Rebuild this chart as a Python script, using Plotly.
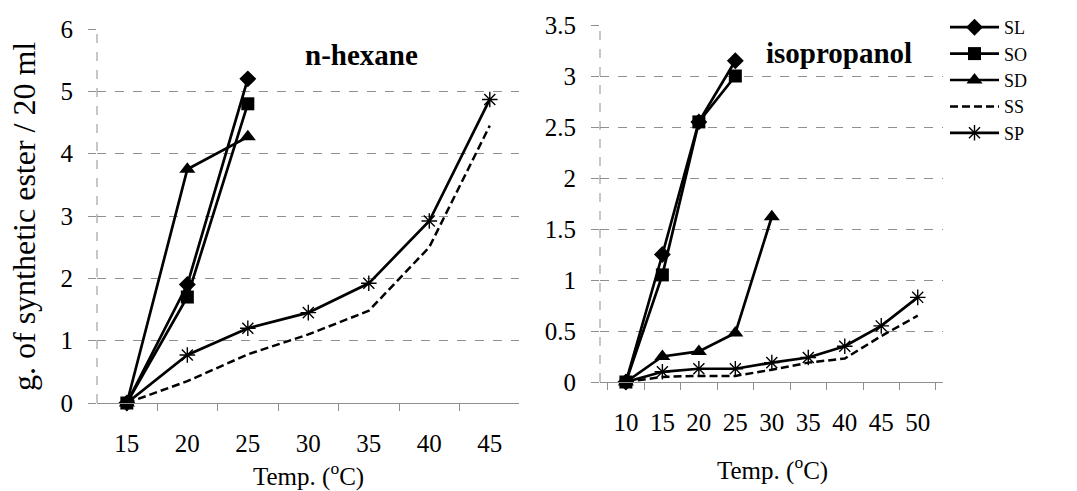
import plotly.graph_objects as go

# ---- data ----
hex_temps = ["15", "20", "25", "30", "35", "40", "45"]
hex_SL = [0, 1.9, 5.2]
hex_SO = [0, 1.7, 4.8]
hex_SD = [0, 3.75, 4.27]
hex_SS = [0, 0.35, 0.78, 1.1, 1.48, 2.5, 4.45]
hex_SP = [0, 0.77, 1.2, 1.45, 1.92, 2.92, 4.87]

iso_temps = ["10", "15", "20", "25", "30", "35", "40", "45", "50"]
iso_SL = [0, 1.25, 2.55, 3.15]
iso_SO = [0, 1.05, 2.55, 3.0]
iso_SD = [0, 0.25, 0.3, 0.48, 1.62]
iso_SS = [0, 0.05, 0.06, 0.06, 0.12, 0.19, 0.23, 0.45, 0.65]
iso_SP = [0, 0.1, 0.13, 0.13, 0.19, 0.24, 0.35, 0.55, 0.83]

hex_yticks = [0, 1, 2, 3, 4, 5, 6]
iso_yticks = [0, 0.5, 1, 1.5, 2, 2.5, 3, 3.5]

FONT = "Times New Roman, Liberation Serif, serif"
BLK = "black"
GRID = "#8f8f8f"
W, H = 1077, 491

styles = {
    "SL": dict(marker=dict(symbol="diamond", size=13, color=BLK), line=dict(color=BLK, width=2.7)),
    "SO": dict(marker=dict(symbol="square", size=13, color=BLK), line=dict(color=BLK, width=2.7)),
    "SD": dict(marker=dict(symbol="triangle-up", size=14, color=BLK), line=dict(color=BLK, width=2.7)),
    "SS": dict(mode="lines", line=dict(color=BLK, width=2.5, dash="8px,4px")),
    "SP": dict(marker=dict(symbol="asterisk-open", size=13, color=BLK, line=dict(color=BLK, width=1.4)),
               line=dict(color=BLK, width=2.7)),
}

fig = go.Figure()

def add_series(temps, series, xa, ya, showlegend):
    for name, vals in series:
        st = dict(styles[name])
        mode = st.pop("mode", "lines+markers")
        fig.add_trace(go.Scatter(
            x=temps[:len(vals)], y=vals, name=name, mode=mode, legendgroup=name,
            xaxis=xa, yaxis=ya, showlegend=showlegend, cliponaxis=False, **st))

add_series(hex_temps, [("SL", hex_SL), ("SO", hex_SO), ("SD", hex_SD), ("SS", hex_SS), ("SP", hex_SP)], "x", "y", True)
add_series(iso_temps, [("SL", iso_SL), ("SO", iso_SO), ("SD", iso_SD), ("SS", iso_SS), ("SP", iso_SP)], "x2", "y2", False)

xcommon = dict(type="category", tickson="boundaries", ticks="outside", ticklen=7, tickcolor=GRID,
               showline=True, linecolor=GRID, linewidth=1.3, showgrid=False, zeroline=False,
               automargin=False, ticklabelstandoff=18,
               tickfont=dict(family=FONT, size=25, color=BLK))
ycommon = dict(ticks="outside", ticklen=8, tickcolor=GRID, showline=False, zeroline=False,
               showgrid=True, gridcolor=GRID, griddash="dash", gridwidth=1,
               automargin=False, ticklabelstandoff=10,
               tickfont=dict(family=FONT, size=25, color=BLK))

def px(xp, yp):
    return xp / W, 1 - yp / H

ann = []
for text, (xp, yp), size, ang in [
    ("<b>n-hexane</b>", (361, 55), 29, 0),
    ("<b>isopropanol</b>", (839, 53), 29, 0),
    ("Temp. (<sup>o</sup>C)", (308, 474), 25, 0),
    ("Temp. (<sup>o</sup>C)", (772, 468), 25, 0),
    ("g. of synthetic ester / 20 ml", (24, 217), 32, -90),
]:
    x, y = px(xp, yp)
    ann.append(dict(text=text, xref="paper", yref="paper", x=x, y=y, xanchor="center", yanchor="middle",
                    showarrow=False, textangle=ang, font=dict(family=FONT, size=size, color=BLK)))

fig.update_layout(
    width=W, height=H,
    margin=dict(l=0, r=0, t=0, b=0, autoexpand=False),
    paper_bgcolor="white", plot_bgcolor="white",
    font=dict(family=FONT, color=BLK),
    xaxis=dict(domain=[97 / W, 519 / W], anchor="y", categoryorder="array", categoryarray=hex_temps, **xcommon),
    yaxis=dict(domain=[1 - 403 / H, 1 - 29 / H], anchor="x", range=[0, 6], tickvals=hex_yticks, **ycommon),
    xaxis2=dict(domain=[600 / W, 943 / W], anchor="y2", categoryorder="array", categoryarray=iso_temps, **xcommon),
    yaxis2=dict(domain=[1 - 382 / H, 1 - 25 / H], anchor="x2", range=[0, 3.5], tickvals=iso_yticks, **ycommon),
    legend=dict(x=945 / W, y=1 - 9 / H, xanchor="left", yanchor="top",
                font=dict(family=FONT, size=18, color=BLK),
                tracegroupgap=0, itemwidth=49, bgcolor="rgba(0,0,0,0)"),
    annotations=ann,
    shapes=[
        dict(type="line", xref="x domain", yref="y domain", x0=0, x1=0, y0=0, y1=1,
             line=dict(color=GRID, width=1, dash="dash")),
        dict(type="line", xref="x2 domain", yref="y2 domain", x0=0, x1=0, y0=0, y1=1,
             line=dict(color=GRID, width=1, dash="dash")),
    ],
)

fig.write_html("out.html")
